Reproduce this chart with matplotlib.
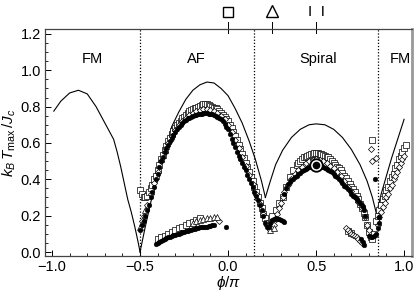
import sys
import matplotlib
matplotlib.use("Agg")
import matplotlib.pyplot as plt

plt.rcParams['font.family'] = ['Liberation Sans', 'DejaVu Sans']
plt.rcParams['mathtext.fontset'] = 'custom'
plt.rcParams['mathtext.rm'] = 'Liberation Sans'
plt.rcParams['mathtext.it'] = 'Liberation Sans:italic'

# theory curve (solid line), one piece per phase
fm_left_phi = [-0.99, -0.95, -0.90, -0.85, -0.80, -0.75, -0.70, -0.65, -0.63, -0.61, -0.59, -0.57, -0.55, -0.53, -0.51, -0.50]
fm_left_t = [0.775, 0.83, 0.875, 0.89, 0.87, 0.80, 0.71, 0.62, 0.55, 0.47, 0.38, 0.29, 0.22, 0.14, 0.05, 0.0]
af_phi = [-0.50, -0.47, -0.44, -0.40, -0.36, -0.32, -0.28, -0.24, -0.20, -0.16, -0.12, -0.08, -0.04, 0.00, 0.04, 0.08, 0.12, 0.155, 0.19, 0.212]
af_t = [0.0, 0.14, 0.27, 0.42, 0.55, 0.69, 0.77, 0.84, 0.89, 0.92, 0.935, 0.93, 0.90, 0.86, 0.79, 0.71, 0.61, 0.51, 0.39, 0.30]
sp_phi = [0.212, 0.24, 0.27, 0.31, 0.36, 0.41, 0.46, 0.50, 0.55, 0.60, 0.65, 0.70, 0.75, 0.79, 0.82, 0.843]
sp_t = [0.30, 0.39, 0.48, 0.56, 0.63, 0.675, 0.70, 0.705, 0.70, 0.675, 0.63, 0.565, 0.48, 0.39, 0.30, 0.21]
fm_right_phi = [0.843, 0.87, 0.90, 0.93, 0.96, 0.99, 1.0]
fm_right_t = [0.21, 0.32, 0.42, 0.52, 0.61, 0.70, 0.73]

# filled circles
circ_phi = [-0.50, -0.49, -0.48, -0.47, -0.46, -0.45, -0.44, -0.43, -0.42, -0.41, -0.40, -0.39, -0.38, -0.37, -0.36,
            -0.35, -0.34, -0.33, -0.32, -0.31, -0.30, -0.29, -0.28, -0.27, -0.26, -0.25, -0.24, -0.23, -0.22, -0.21,
            -0.20, -0.19, -0.18, -0.17, -0.16, -0.15, -0.14, -0.13, -0.12, -0.11, -0.10, -0.09, -0.08, -0.07, -0.06,
            -0.05, -0.04, -0.03, -0.02, -0.01,
            0.00, 0.01, 0.02, 0.03, 0.04, 0.05, 0.06, 0.07, 0.08, 0.09, 0.10, 0.11, 0.12, 0.13, 0.14, 0.15, 0.16,
            0.17, 0.18, 0.19, 0.20, 0.21, 0.22, 0.23, 0.24, 0.25, 0.26, 0.27, 0.28, 0.29, 0.30, 0.31, 0.32,
            0.32, 0.33, 0.34, 0.35, 0.36, 0.37, 0.38, 0.39, 0.40, 0.41, 0.42, 0.43, 0.44, 0.45, 0.46, 0.47, 0.48,
            0.52, 0.53, 0.54, 0.55, 0.56, 0.57, 0.58, 0.59, 0.60, 0.61, 0.62, 0.63, 0.64, 0.65,
            0.66, 0.67, 0.68, 0.69, 0.70, 0.71, 0.72, 0.73, 0.74, 0.75, 0.76, 0.765, 0.77, 0.78,
            0.755, 0.765, 0.775, 0.80, 0.81, 0.82, 0.83, 0.84, 0.85, 0.855, 0.86, 0.834,
            -0.41, -0.40, -0.39, -0.38, -0.37, -0.36, -0.35, -0.34, -0.33, -0.32, -0.31, -0.30, -0.29, -0.28, -0.27,
            -0.26, -0.25, -0.24, -0.23, -0.22, -0.21, -0.20, -0.19, -0.18, -0.17, -0.16, -0.15, -0.14,
            -0.13, -0.12, -0.11, -0.10, -0.09, -0.08, -0.01]
circ_t = [0.12, 0.15, 0.17, 0.20, 0.23, 0.26, 0.30, 0.33, 0.36, 0.40, 0.43, 0.47, 0.50, 0.52, 0.55,
          0.57, 0.59, 0.61, 0.63, 0.645, 0.66, 0.675, 0.69, 0.70, 0.71, 0.72, 0.725, 0.735, 0.74, 0.745,
          0.75, 0.752, 0.755, 0.758, 0.76, 0.762, 0.763, 0.764, 0.763, 0.762, 0.76, 0.757, 0.755, 0.75, 0.745,
          0.738, 0.73, 0.72, 0.705, 0.69,
          0.675, 0.65, 0.62, 0.60, 0.575, 0.55, 0.53, 0.51, 0.49, 0.47, 0.45, 0.425, 0.40, 0.38, 0.355, 0.33, 0.31,
          0.285, 0.26, 0.23, 0.20, 0.16, 0.14, 0.14, 0.16, 0.175, 0.18, 0.185, 0.18, 0.18, 0.175, 0.17, 0.165,
          0.32, 0.35, 0.375, 0.385, 0.395, 0.40, 0.41, 0.42, 0.43, 0.435, 0.445, 0.45, 0.455, 0.46, 0.465, 0.47, 0.473,
          0.475, 0.47, 0.465, 0.46, 0.455, 0.45, 0.445, 0.44, 0.43, 0.42, 0.41, 0.40, 0.39, 0.38,
          0.365, 0.355, 0.345, 0.335, 0.32, 0.31, 0.30, 0.29, 0.28, 0.27, 0.26, 0.245, 0.23, 0.20,
          0.07, 0.055, 0.04, 0.09, 0.08, 0.08, 0.09, 0.10, 0.13, 0.16, 0.19, 0.40,
          0.045, 0.05, 0.055, 0.06, 0.065, 0.07, 0.075, 0.08, 0.085, 0.09, 0.092, 0.095, 0.098, 0.10, 0.105,
          0.11, 0.112, 0.115, 0.118, 0.12, 0.122, 0.125, 0.128, 0.13, 0.132, 0.135, 0.138, 0.14,
          0.14, 0.14, 0.142, 0.145, 0.148, 0.15, 0.14]

# open squares
sq_phi = [-0.50, -0.49, -0.48, -0.47, -0.46, -0.45, -0.44, -0.43, -0.42, -0.41, -0.40, -0.39, -0.38, -0.37, -0.36,
          -0.35, -0.34, -0.33, -0.32, -0.31, -0.30, -0.29, -0.28, -0.27, -0.26, -0.25, -0.24, -0.23, -0.22, -0.21,
          -0.20, -0.19, -0.18, -0.17, -0.16, -0.15, -0.14, -0.13, -0.12, -0.11, -0.10, -0.09, -0.08, -0.07, -0.06,
          -0.05, -0.04, -0.03, -0.02, -0.01,
          0.00, 0.01, 0.02, 0.03, 0.04, 0.05, 0.06, 0.07, 0.08, 0.09, 0.10, 0.11, 0.12, 0.13, 0.14, 0.15, 0.16,
          0.17, 0.18, 0.19, 0.20, 0.21, 0.22,
          0.25, 0.27, 0.29, 0.31, 0.33, 0.35, 0.37, 0.39, 0.40, 0.41, 0.42, 0.43, 0.44, 0.45, 0.46, 0.47, 0.48,
          0.49, 0.50, 0.51, 0.52, 0.53, 0.54, 0.55, 0.56, 0.57, 0.58,
          0.59, 0.60, 0.61, 0.62, 0.63, 0.64, 0.65, 0.66, 0.67, 0.68, 0.69, 0.70, 0.71, 0.72, 0.73, 0.74, 0.75,
          0.76, 0.77, 0.78, 0.79, 0.80, 0.81, 0.82, 0.83,
          0.84, 0.85, 0.86, 0.87, 0.88, 0.89, 0.90, 0.91, 0.92, 0.93, 0.94, 0.95, 0.96, 0.97, 0.98, 0.99, 1.00, 1.01,
          0.68, 0.70, 0.82,
          -0.40, -0.38, -0.36, -0.34, -0.32, -0.30, -0.28, -0.26, -0.24, -0.22, -0.20, -0.18, -0.16]
sq_t = [0.34, 0.32, 0.30, 0.30, 0.31, 0.33, 0.35, 0.37, 0.40, 0.42, 0.45, 0.48, 0.51, 0.535, 0.56,
        0.585, 0.61, 0.63, 0.65, 0.665, 0.68, 0.70, 0.71, 0.72, 0.735, 0.745, 0.755, 0.765, 0.775, 0.78,
        0.785, 0.79, 0.795, 0.80, 0.805, 0.81, 0.812, 0.815, 0.812, 0.81, 0.805, 0.80, 0.795, 0.79, 0.785,
        0.775, 0.765, 0.755, 0.745, 0.73,
        0.72, 0.70, 0.68, 0.66, 0.64, 0.615, 0.59, 0.565, 0.54, 0.515, 0.49, 0.465, 0.44, 0.415, 0.39, 0.36, 0.33,
        0.30, 0.27, 0.24, 0.21, 0.185, 0.16,
        0.20, 0.23, 0.27, 0.30, 0.36, 0.41, 0.45, 0.48, 0.49, 0.50, 0.51, 0.52, 0.525, 0.53, 0.535, 0.54, 0.54,
        0.545, 0.545, 0.545, 0.54, 0.54, 0.535, 0.53, 0.525, 0.52, 0.51,
        0.50, 0.49, 0.48, 0.47, 0.46, 0.45, 0.435, 0.42, 0.405, 0.39, 0.375, 0.36, 0.345, 0.33, 0.31, 0.29, 0.265,
        0.24, 0.215, 0.19, 0.15, 0.11, 0.08, 0.07, 0.10,
        0.17, 0.20, 0.23, 0.26, 0.29, 0.31, 0.34, 0.36, 0.39, 0.41, 0.43, 0.46, 0.48, 0.51, 0.53, 0.55, 0.57, 0.59,
        0.115, 0.105, 0.615,
        0.07, 0.08, 0.09, 0.10, 0.11, 0.12, 0.13, 0.14, 0.15, 0.16, 0.165, 0.175, 0.185]

# open diamonds
dia_phi = [-0.49, -0.48, -0.46, -0.44, -0.42, -0.40, -0.38, -0.36, -0.34, -0.32, -0.30, -0.28, -0.26, -0.24,
           -0.22, -0.20, -0.18, -0.16, -0.14, -0.12, -0.10, -0.08, -0.06, -0.04, -0.02, 0.00, 0.02, 0.04, 0.06,
           0.08, 0.10, 0.12, 0.14, 0.16, 0.18, 0.20, 0.22, 0.23, 0.24, 0.25, 0.26, 0.27, 0.28, 0.29, 0.30, 0.31,
           0.32, 0.34, 0.36, 0.38, 0.40, 0.42, 0.44, 0.46, 0.48, 0.50, 0.52, 0.54, 0.56, 0.58, 0.60, 0.62, 0.64,
           0.66, 0.68, 0.70, 0.72, 0.74, 0.76, 0.78, 0.79, 0.80,
           0.67, 0.68, 0.69, 0.70, 0.71, 0.72, 0.73, 0.74, 0.75, 0.76,
           0.85, 0.86, 0.87, 0.88, 0.89, 0.90, 0.91, 0.92, 0.93, 0.94, 0.95, 0.96, 0.97, 0.98, 0.99, 1.00,
           0.81, 0.84, 0.82, -0.05]
dia_t = [0.17, 0.20, 0.26, 0.32, 0.38, 0.44, 0.50, 0.55, 0.60, 0.64, 0.67, 0.70, 0.72, 0.74,
         0.755, 0.765, 0.775, 0.78, 0.785, 0.785, 0.78, 0.775, 0.765, 0.75, 0.73, 0.70, 0.66, 0.615, 0.57,
         0.525, 0.475, 0.425, 0.375, 0.32, 0.265, 0.21, 0.16, 0.13, 0.12, 0.13, 0.15, 0.18, 0.21, 0.24, 0.27, 0.30,
         0.33, 0.37, 0.40, 0.43, 0.45, 0.47, 0.49, 0.50, 0.505, 0.51, 0.505, 0.50, 0.49, 0.475, 0.46, 0.44, 0.42,
         0.39, 0.36, 0.335, 0.305, 0.275, 0.24, 0.19, 0.15, 0.12,
         0.13, 0.12, 0.11, 0.10, 0.095, 0.09, 0.08, 0.07, 0.06, 0.05,
         0.15, 0.19, 0.22, 0.25, 0.27, 0.30, 0.32, 0.35, 0.37, 0.40, 0.42, 0.44, 0.47, 0.49, 0.51, 0.53,
         0.565, 0.515, 0.50, 0.17]

# open triangles
tri_phi = [-0.50, -0.49, -0.47, -0.20, -0.18, -0.16, -0.14, -0.12, -0.10, -0.08, -0.06, 0.24, 0.26]
tri_t = [0.14, 0.16, 0.23, 0.16, 0.17, 0.175, 0.18, 0.185, 0.185, 0.19, 0.19, 0.12, 0.13]

# highlighted point and phase boundaries
mark_phi, mark_t = 0.5, 0.48
boundaries = [-0.5, 0.15, 0.85]
phase_names = ['FM', 'AF', 'Spiral', 'FM']
phase_pos = [-0.77, -0.18, 0.51, 0.98]
top_phi = [0.0, 0.25, 0.5]


def main():
    fig = plt.figure(figsize=(4.15, 2.95), dpi=100)
    ax = fig.add_axes([0.1084, 0.1322, 0.8844, 0.7695])

    for xb in boundaries:
        ax.axvline(xb, color='k', lw=0.9, ls=(0, (1, 1.5)))

    for xs, ys in [(fm_left_phi, fm_left_t), (af_phi, af_t), (sp_phi, sp_t), (fm_right_phi, fm_right_t)]:
        ax.plot(xs, ys, color='k', lw=0.8)

    ax.plot(sq_phi, sq_t, ls='none', marker='s', ms=3.7, mfc='white', mec='k', mew=0.5)
    ax.plot(dia_phi, dia_t, ls='none', marker='D', ms=3.1, mfc='white', mec='k', mew=0.5)
    ax.plot(tri_phi, tri_t, ls='none', marker='^', ms=4.0, mfc='white', mec='k', mew=0.5)
    ax.plot(circ_phi, circ_t, ls='none', marker='o', ms=3.4, mfc='k', mec='k', mew=0.3)

    ax.plot([mark_phi], [mark_t], marker='o', ms=9, mfc='white', mec='k', mew=1.3, zorder=5)
    ax.plot([mark_phi], [mark_t], marker='o', ms=4.5, mfc='k', mec='k', zorder=6)

    for name, xp in zip(phase_names, phase_pos):
        ax.text(xp, 1.06, name, ha='center', va='center', fontsize=10.5)

    # symbols above the frame
    for xp in top_phi:
        ax.plot([xp, xp], [1.205, 1.268], color='k', lw=0.7, clip_on=False)
    ax.plot([top_phi[0]], [1.32], marker='s', ms=7, mfc='white', mec='k', mew=1.0, clip_on=False)
    ax.plot([top_phi[1]], [1.325], marker='^', ms=8, mfc='white', mec='k', mew=1.0, clip_on=False)
    ax.text(top_phi[2], 1.322, 'I  I', ha='center', va='center', fontsize=11)

    ax.set_xlim(-1.04, 1.045)
    ax.set_ylim(-0.022, 1.227)
    ax.set_xticks([-1.0, -0.5, 0.0, 0.5, 1.0])
    ax.set_xticklabels(['\u22121.0', '\u22120.5', '0.0', '0.5', '1.0'])
    ax.set_yticks([0.0, 0.2, 0.4, 0.6, 0.8, 1.0, 1.2])
    ax.set_yticklabels(['0.0', '0.2', '0.4', '0.6', '0.8', '1.0', '1.2'])
    ax.set_xticks([i / 10 for i in range(-10, 11)], minor=True)
    ax.set_yticks([i / 20 for i in range(0, 25)], minor=True)
    ax.tick_params(which='both', direction='in', labelsize=10.5, pad=3)
    ax.tick_params(which='major', length=4, width=0.7)
    ax.tick_params(which='minor', length=2.5, width=0.6)

    for side in ['left', 'top', 'bottom']:
        ax.spines[side].set_color('#444444')
        ax.spines[side].set_linewidth(0.9)
    ax.spines['right'].set_color('#999999')
    ax.spines['right'].set_linewidth(2)

    ax.set_xlabel(r'$\phi/\pi$', fontsize=11, labelpad=0)
    ax.set_ylabel(r'$k_B\,T_{\rm max}\,/J_c$', fontsize=11, labelpad=2)

    fig.savefig('out.png', dpi=100)
    return 0


if __name__ == "__main__":
    sys.exit(main())
